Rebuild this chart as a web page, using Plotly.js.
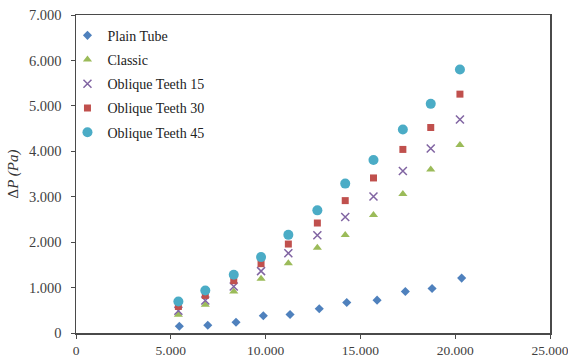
<!DOCTYPE html>
<html>
<head>
<meta charset="utf-8">
<script src="https://cdn.plot.ly/plotly-3.0.1.min.js"></script>
<style>html,body{margin:0;padding:0;background:#fff;}#chart{width:568px;height:360px;}</style>
</head>
<body>
<div id="chart"></div>
<script>
// Reynolds numbers (x)
var rePlain = [5450, 6950, 8440, 9880, 11290, 12830, 14280, 15880, 17370, 18780, 20340];
var reTeeth = [5400, 6820, 8320, 9760, 11200, 12730, 14200, 15690, 17240, 18710, 20250];

// Pressure drop values (Pa)
var dpPlain   = [150, 172, 238, 379, 408, 534, 672, 723, 915, 981, 1208];
var dpClassic = [401, 622, 915, 1195, 1537, 1878, 2156, 2597, 3058, 3598, 4140];
var dpOT15    = [489, 717, 1025, 1362, 1757, 2150, 2553, 3003, 3567, 4061, 4700];
var dpOT30    = [584, 827, 1151, 1526, 1958, 2421, 2914, 3413, 4041, 4524, 5258];
var dpOT45    = [694, 937, 1283, 1671, 2160, 2700, 3289, 3810, 4480, 5044, 5802];

var seriesNames = ['Plain Tube', 'Classic', 'Oblique Teeth 15', 'Oblique Teeth 30', 'Oblique Teeth 45'];

var xTickVals = [0, 5000, 10000, 15000, 20000, 25000];
var yTickVals = [0, 1000, 2000, 3000, 4000, 5000, 6000, 7000];

var SERIF = 'Times New Roman, Liberation Serif, Times, serif';

function tr(name, x, y, sym, color, size, grp) {
  return {
    type: 'scatter', mode: 'markers', name: name, x: x, y: y,
    legendgroup: grp,
    marker: {symbol: sym, color: color, size: size, line: {width: 0}}
  };
}

var data = [
  tr(seriesNames[0], rePlain, dpPlain, 'diamond', '#4F81BD', 7, 'g1'),
  tr(seriesNames[1], reTeeth, dpClassic, 'triangle-up', '#9BBB59', 8, 'g2'),
  tr(seriesNames[2], reTeeth, dpOT15, 'x-thin', '#8064A2', 8, 'g3'),
  tr(seriesNames[3], reTeeth, dpOT30, 'square', '#C0504D', 7, 'g4'),
  tr(seriesNames[4], reTeeth, dpOT45, 'circle', '#4BACC6', 10, 'g5')
];
data[2].marker.line = {width: 1.5, color: '#8064A2'};

var tickFont = {family: SERIF, size: 14.5, color: '#3f3f3f'};
var xTickFont = {family: SERIF, size: 13.5, color: '#3f3f3f'};

var layout = {
  width: 568, height: 360,
  margin: {l: 76, r: 18, t: 15, b: 27},
  paper_bgcolor: '#fff', plot_bgcolor: '#fff',
  separators: ',.',
  showlegend: true,
  legend: {
    x: -0.018, y: 0.985, xanchor: 'left', yanchor: 'top',
    font: {family: SERIF, size: 14, color: '#222'},
    bgcolor: 'rgba(0,0,0,0)', tracegroupgap: 3, itemwidth: 30
  },
  xaxis: {
    range: [0, 25000], tickvals: xTickVals, separatethousands: true, tickformat: ',d',
    showgrid: false, zeroline: false,
    showline: true, linecolor: '#4a4a4a', linewidth: 1.5, mirror: true,
    ticks: 'outside', ticklen: 4, tickcolor: '#4a4a4a', ticklabeloverflow: 'allow',
    tickfont: xTickFont, fixedrange: true
  },
  yaxis: {
    range: [0, 7000], tickvals: yTickVals, separatethousands: true, tickformat: ',d',
    showgrid: false, zeroline: false,
    showline: true, linecolor: '#4a4a4a', linewidth: 1.5, mirror: true,
    ticks: 'outside', ticklen: 4, tickcolor: '#4a4a4a', ticklabelstandoff: 6,
    tickfont: tickFont, fixedrange: true,
    title: {text: 'Δ<i>P (Pa)</i>', font: {family: SERIF, size: 15, color: '#333'}, standoff: 6}
  }
};

Plotly.newPlot('chart', data, layout, {displayModeBar: false, staticPlot: true});
</script>
</body>
</html>
